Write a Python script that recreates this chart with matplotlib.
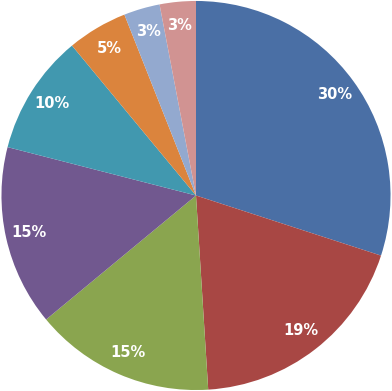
import matplotlib.pyplot as plt

# slice shares (percent), clockwise from 12 o'clock
shares = [30, 19, 15, 15, 10, 5, 3, 3]
colors = ['#4A6FA5', '#A84744', '#8AA54F', '#71588F', '#4198AF', '#DB843D', '#93A9CF', '#D19392']

fig = plt.figure(figsize=(3.92, 3.91), dpi=100)
ax = fig.add_axes([0, 0, 1, 1])

wedges, texts, autotexts = ax.pie(
    shares, colors=colors, startangle=90, counterclock=False,
    autopct='%d%%', pctdistance=0.88, radius=1.0,
    wedgeprops=dict(linewidth=0),
    textprops=dict(color='white', fontweight='bold', fontsize=10.5),
)

ax.set_xlim(-1.005, 1.005)
ax.set_ylim(-1.005, 1.005)
ax.set_aspect('equal')
ax.axis('off')

fig.savefig('out.png', dpi=100)
